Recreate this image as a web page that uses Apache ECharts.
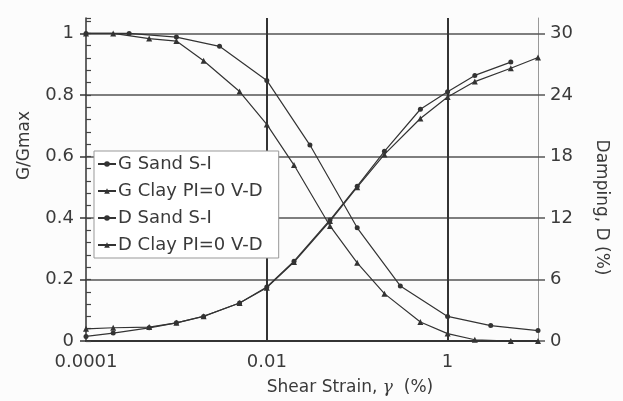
<!DOCTYPE html>
<html>
<head>
  <meta charset="utf-8">
  <title>G/Gmax and damping curves</title>
  <script src="https://cdn.jsdelivr.net/npm/echarts@6/dist/echarts.min.js"></script>
  <style>
    html, body { margin: 0; padding: 0; background: #fcfcfc; }
    #main { width: 623px; height: 401px; }
  </style>
</head>
<body>
<div id="main"></div>
<script>
  // strains (%)
  const strainSand = [0.0001, 0.0003, 0.001, 0.003, 0.01, 0.03, 0.1, 0.3, 1, 3, 10];
  const strainSandD = [0.0001, 0.0002, 0.0005, 0.001, 0.002, 0.005, 0.01, 0.02, 0.05, 0.1, 0.2, 0.5, 1, 2, 5];
  const strainClay = [0.0001, 0.0002, 0.0005, 0.001, 0.002, 0.005, 0.01, 0.02, 0.05, 0.1, 0.2, 0.5, 1, 2, 5, 10];

  const gSand = [1.0, 1.0, 0.988, 0.958, 0.847, 0.637, 0.368, 0.179, 0.080, 0.050, 0.034];
  const gClay = [1.0, 1.0, 0.983, 0.975, 0.911, 0.811, 0.704, 0.572, 0.374, 0.254, 0.154, 0.062, 0.024, 0.004, 0.0, 0.0];
  const dSand = [0.45, 0.77, 1.28, 1.77, 2.4, 3.7, 5.27, 7.78, 11.8, 15.1, 18.5, 22.6, 24.3, 25.9, 27.2];
  const dClay = [1.19, 1.29, 1.36, 1.77, 2.41, 3.7, 5.2, 7.7, 11.7, 15.0, 18.2, 21.7, 23.8, 25.3, 26.6, 27.65];

  const seriesNames = ['G Sand S-I', 'G Clay PI=0 V-D', 'D Sand S-I', 'D Clay PI=0 V-D'];
  const xTickLabels = ['0.0001', '0.01', '1'];
  const gTicks = [0, 0.2, 0.4, 0.6, 0.8, 1];
  const dTicks = [0, 6, 12, 18, 24, 30];

  const pairs = (xs, ys) => xs.map((x, i) => [x, ys[i]]);
  const txt = '#3a3a3a';
  const font = 'DejaVu Sans';

  function line(name, data, yIdx, symbol, size) {
    return {
      name: name,
      type: 'line',
      yAxisIndex: yIdx,
      data: data,
      symbol: symbol,
      symbolSize: size,
      showSymbol: true,
      lineStyle: { color: '#333', width: 1.2 },
      itemStyle: { color: '#333' },
      z: 5
    };
  }

  const chart = echarts.init(document.getElementById('main'));
  chart.setOption({
    animation: false,
    backgroundColor: '#fcfcfc',
    textStyle: { fontFamily: font },
    grid: { left: 86, right: 85, top: 18, bottom: 57 },
    legend: {
      orient: 'vertical',
      left: 94,
      top: 151,
      width: 186,
      itemWidth: 18,
      itemHeight: 7,
      itemGap: 7,
      padding: [3, 16, 3, 3],
      backgroundColor: '#fff',
      borderColor: '#999',
      borderWidth: 1,
      textStyle: { fontFamily: font, fontSize: 18, color: txt, lineHeight: 20, padding: [0, 0, 0, -3] },
      data: seriesNames
    },
    xAxis: {
      type: 'log',
      logBase: 10,
      min: 0.0001,
      max: 10,
      name: 'Shear Strain, {g|γ}  (%)',
      nameLocation: 'middle',
      nameGap: 38,
      nameTextStyle: {
        fontFamily: font, fontSize: 17, color: txt, padding: [0, 0, 0, 76],
        rich: { g: { fontFamily: 'DejaVu Serif', fontStyle: 'italic', fontSize: 17, color: txt } }
      },
      axisLine: { lineStyle: { color: '#333', width: 2 } },
      axisTick: { show: false },
      axisLabel: {
        fontSize: 18, color: txt, margin: 12,
        formatter: function (v) {
          const s = xTickLabels.find(t => Math.abs(Math.log10(parseFloat(t)) - Math.log10(v)) < 1e-6);
          return s || '';
        }
      },
      splitLine: {
        show: true,
        lineStyle: { color: ['rgba(0,0,0,0)', 'rgba(0,0,0,0)', '#333', 'rgba(0,0,0,0)', '#333', 'rgba(0,0,0,0)'], width: 2 }
      }
    },
    yAxis: [
      {
        type: 'value',
        position: 'left',
        min: 0,
        max: 1.05,
        interval: 0.2,
        name: 'G/Gmax',
        nameLocation: 'middle',
        nameRotate: 90,
        nameGap: 53,
        nameTextStyle: { fontSize: 17, color: txt, padding: [0, 0, 0, 68] },
        axisLine: { show: true, lineStyle: { color: '#333', width: 1.5 } },
        axisTick: { show: true, length: 6, customValues: gTicks, lineStyle: { color: '#333', width: 1.5 } },
        axisLabel: { fontSize: 18, color: txt, margin: 12, customValues: gTicks },
        splitLine: { show: true, lineStyle: { color: '#555', width: 1.5 } }
      },
      {
        type: 'value',
        position: 'right',
        min: 0,
        max: 31.5,
        interval: 6,
        name: 'Damping, D (%)',
        nameLocation: 'middle',
        nameRotate: -90,
        nameGap: 55,
        nameTextStyle: { fontSize: 17, color: txt, padding: [0, 0, 0, 56] },
        axisLine: { show: true, lineStyle: { color: '#999', width: 1 } },
        axisTick: { show: true, length: 7, customValues: dTicks, lineStyle: { color: '#555', width: 1.5 } },
        axisLabel: { fontSize: 18, color: txt, margin: 12, customValues: dTicks },
        splitLine: { show: false }
      },
      {
        // minor ticks on the inside of the left axis
        type: 'value',
        position: 'left',
        offset: 0,
        min: 0,
        max: 1.05,
        interval: 0.2,
        axisLine: { show: false },
        axisLabel: { show: false },
        axisTick: { show: true, inside: true, length: 5, lineStyle: { color: '#444', width: 1.2 } },
        minorTick: { show: true, splitNumber: 5, length: 5, lineStyle: { color: '#444', width: 1.2 } },
        splitLine: { show: false }
      }
    ],
    series: [
      line(seriesNames[0], pairs(strainSand, gSand), 0, 'circle', 5),
      line(seriesNames[1], pairs(strainClay, gClay), 0, 'triangle', 6),
      line(seriesNames[2], pairs(strainSandD, dSand), 1, 'circle', 5),
      line(seriesNames[3], pairs(strainClay, dClay), 1, 'triangle', 6)
    ]
  });
</script>
</body>
</html>
